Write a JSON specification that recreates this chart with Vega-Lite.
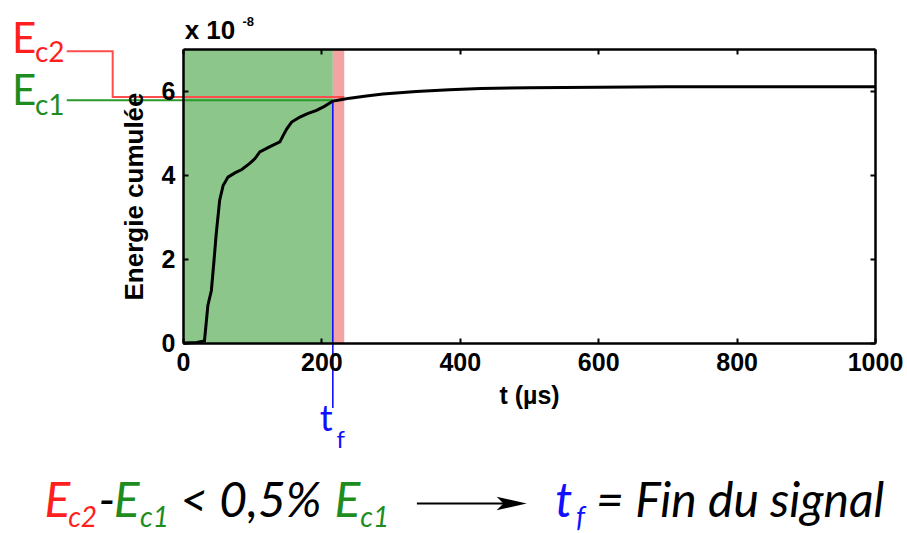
{
  "$schema": "https://vega.github.io/schema/vega-lite/v6.json",
  "width": 692,
  "height": 294,
  "autosize": {"type": "none"},
  "padding": {"left": 183, "top": 49, "right": 32, "bottom": 190},
  "background": "white",
  "config": {"view": {"stroke": null}},
  "datasets": {
    "curve": [
      {"t": 0, "E": 0}, {"t": 20, "E": 0.01}, {"t": 31, "E": 0.05}, {"t": 36, "E": 0.9},
      {"t": 41, "E": 1.25}, {"t": 45, "E": 2.0}, {"t": 48, "E": 2.6}, {"t": 53, "E": 3.4},
      {"t": 58, "E": 3.75}, {"t": 65, "E": 3.95}, {"t": 75, "E": 4.05}, {"t": 85, "E": 4.13},
      {"t": 96, "E": 4.27}, {"t": 104, "E": 4.39}, {"t": 111, "E": 4.55}, {"t": 125, "E": 4.67},
      {"t": 140, "E": 4.79}, {"t": 145, "E": 4.95}, {"t": 150, "E": 5.1}, {"t": 157, "E": 5.26},
      {"t": 169, "E": 5.38}, {"t": 180, "E": 5.46}, {"t": 193, "E": 5.54}, {"t": 205, "E": 5.64},
      {"t": 216.5, "E": 5.76}, {"t": 230, "E": 5.8}, {"t": 241, "E": 5.83}, {"t": 265, "E": 5.88},
      {"t": 289, "E": 5.93}, {"t": 337, "E": 5.99}, {"t": 385, "E": 6.03}, {"t": 430, "E": 6.06},
      {"t": 500, "E": 6.08}, {"t": 600, "E": 6.09}, {"t": 700, "E": 6.1}, {"t": 800, "E": 6.1},
      {"t": 900, "E": 6.1}, {"t": 1000, "E": 6.1}
    ],
    "zones": [
      {"s": "zone1", "t0": 0, "t1": 216.5, "e0": 0, "e1": 7},
      {"s": "zone2", "t0": 216.5, "t1": 233, "e0": 0, "e1": 7}
    ],
    "reflines": [
      {"s": "Ec2line", "o": 1, "t": -168, "E": 6.945},
      {"s": "Ec2line", "o": 2, "t": -101.6, "E": 6.945},
      {"s": "Ec2line", "o": 3, "t": -101.6, "E": 5.857},
      {"s": "Ec2line", "o": 4, "t": 233, "E": 5.857},
      {"s": "Ec1line", "o": 1, "t": -168, "E": 5.78},
      {"s": "Ec1line", "o": 2, "t": 216.5, "E": 5.78}
    ]
  },
  "resolve": {"axis": {"x": "independent", "y": "independent"}},
  "layer": [
    {
      "data": {"name": "zones"},
      "mark": {"type": "rect"},
      "encoding": {
        "x": {"field": "t0", "type": "quantitative",
          "scale": {"domain": [0, 1000], "nice": false, "zero": false},
          "axis": {"orient": "bottom", "values": [0, 200, 400, 600, 800, 1000], "format": "d",
            "grid": false, "zindex": 1, "labelFlush": false,
            "labelFont": "Liberation Sans", "labelFontWeight": "bold", "labelFontSize": 25, "labelColor": "#000",
            "labelPadding": 12,
            "tickColor": "#000", "tickSize": -5, "tickWidth": 2,
            "domainColor": "#000", "domainWidth": 2.5,
            "title": "t (µs)", "titleFont": "Liberation Sans", "titleFontWeight": "bold", "titleFontSize": 25,
            "titleColor": "#000", "titlePadding": 8}},
        "x2": {"field": "t1"},
        "y": {"field": "e0", "type": "quantitative",
          "scale": {"domain": [0, 7], "nice": false, "zero": false},
          "axis": {"orient": "left", "values": [0, 2, 4, 6], "format": "d",
            "grid": false, "zindex": 1, "labelFlush": false,
            "labelFont": "Liberation Sans", "labelFontWeight": "bold", "labelFontSize": 25, "labelColor": "#000",
            "labelPadding": 13,
            "tickColor": "#000", "tickSize": -5, "tickWidth": 2,
            "domainColor": "#000", "domainWidth": 2.5,
            "title": "Energie cumulée", "titleFont": "Liberation Sans", "titleFontWeight": "bold", "titleFontSize": 26,
            "titleColor": "#000", "titlePadding": 14}},
        "y2": {"field": "e1"},
        "color": {"field": "s", "type": "nominal", "legend": null,
          "scale": {"domain": ["zone1", "zone2", "Ec2line", "Ec1line", "Ec2", "Ec1", "tf", "txt"],
                    "range": ["#8cc68a", "#f4a3a3", "#ff4d4d", "#2a9a2a", "#ff1f1f", "#1e8c1e", "#1010ff", "#000000"]}}
      }
    },
    {
      "data": {"name": "reflines"},
      "mark": {"type": "line", "strokeWidth": 2, "interpolate": "linear"},
      "encoding": {
        "x": {"field": "t", "type": "quantitative", "axis": null},
        "y": {"field": "E", "type": "quantitative", "axis": null},
        "order": {"field": "o"},
        "color": {"field": "s", "type": "nominal", "legend": null}
      }
    },
    {
      "data": {"values": [{"s": "tf", "t": 216.5, "E0": -1.55, "E1": 5.78}]},
      "mark": {"type": "rule", "strokeWidth": 1.6},
      "encoding": {
        "x": {"field": "t", "type": "quantitative", "axis": null},
        "y": {"field": "E0", "type": "quantitative", "axis": null},
        "y2": {"field": "E1"},
        "color": {"field": "s", "type": "nominal", "legend": null}
      }
    },
    {
      "data": {"name": "curve"},
      "mark": {"type": "line", "color": "#000", "strokeWidth": 3},
      "encoding": {
        "x": {"field": "t", "type": "quantitative",
          "axis": {"orient": "top", "values": [0, 200, 400, 600, 800, 1000], "labels": false, "title": null,
            "grid": false, "zindex": 1, "tickColor": "#000", "tickSize": -5, "tickWidth": 2,
            "domainColor": "#000", "domainWidth": 2.5}},
        "y": {"field": "E", "type": "quantitative",
          "axis": {"orient": "right", "values": [0, 2, 4, 6], "labels": false, "title": null,
            "grid": false, "zindex": 1, "tickColor": "#000", "tickSize": -5, "tickWidth": 2,
            "domainColor": "#000", "domainWidth": 2.5}}
      }
    },
    {
      "data": {"values": [
        {"txt": "E", "s": "Ec2", "t": -247, "E": 6.9},
        {"txt": "E", "s": "Ec1", "t": -247, "E": 5.66}
      ]},
      "mark": {"type": "text", "font": "Lato", "fontSize": 42, "align": "left", "baseline": "alphabetic"},
      "encoding": {
        "x": {"field": "t", "type": "quantitative", "axis": null},
        "y": {"field": "E", "type": "quantitative", "axis": null},
        "text": {"field": "txt"},
        "color": {"field": "s", "type": "nominal", "legend": null}
      }
    },
    {
      "data": {"values": [
        {"txt": "c2", "s": "Ec2", "t": -214, "E": 6.69},
        {"txt": "c1", "s": "Ec1", "t": -214, "E": 5.44}
      ]},
      "mark": {"type": "text", "font": "Lato", "fontSize": 28, "align": "left", "baseline": "alphabetic"},
      "encoding": {
        "x": {"field": "t", "type": "quantitative", "axis": null},
        "y": {"field": "E", "type": "quantitative", "axis": null},
        "text": {"field": "txt"},
        "color": {"field": "s", "type": "nominal", "legend": null}
      }
    },
    {
      "data": {"values": [{"txt": "t", "s": "tf", "t": 197.5, "E": -2.09}]},
      "mark": {"type": "text", "font": "Lato", "fontSize": 36, "align": "left", "baseline": "alphabetic"},
      "encoding": {
        "x": {"field": "t", "type": "quantitative", "axis": null},
        "y": {"field": "E", "type": "quantitative", "axis": null},
        "text": {"field": "txt"},
        "color": {"field": "s", "type": "nominal", "legend": null}
      }
    },
    {
      "data": {"values": [{"txt": "f", "s": "tf", "t": 222, "E": -2.5}]},
      "mark": {"type": "text", "font": "Lato", "fontSize": 24, "align": "left", "baseline": "alphabetic"},
      "encoding": {
        "x": {"field": "t", "type": "quantitative", "axis": null},
        "y": {"field": "E", "type": "quantitative", "axis": null},
        "text": {"field": "txt"},
        "color": {"field": "s", "type": "nominal", "legend": null}
      }
    },
    {
      "data": {"values": [
        {"txt": "E", "s": "Ec2", "t": -200, "E": -4.15},
        {"txt": "-", "s": "txt", "t": -122, "E": -4.15},
        {"txt": "E", "s": "Ec1", "t": -100, "E": -4.15},
        {"txt": "< 0,5%", "s": "txt", "t": -4, "E": -4.15},
        {"txt": "E", "s": "Ec1", "t": 219, "E": -4.15},
        {"txt": "t", "s": "tf", "t": 538, "E": -4.15},
        {"txt": "= Fin du signal", "s": "txt", "t": 597, "E": -4.15}
      ]},
      "mark": {"type": "text", "font": "Lato", "fontStyle": "italic", "fontSize": 48, "align": "left", "baseline": "alphabetic"},
      "encoding": {
        "x": {"field": "t", "type": "quantitative", "axis": null},
        "y": {"field": "E", "type": "quantitative", "axis": null},
        "text": {"field": "txt"},
        "color": {"field": "s", "type": "nominal", "legend": null}
      }
    },
    {
      "data": {"values": [
        {"txt": "c2", "s": "Ec2", "t": -166, "E": -4.39},
        {"txt": "c1", "s": "Ec1", "t": -62, "E": -4.39},
        {"txt": "c1", "s": "Ec1", "t": 256, "E": -4.39},
        {"txt": "f", "s": "tf", "t": 568, "E": -4.39}
      ]},
      "mark": {"type": "text", "font": "Lato", "fontStyle": "italic", "fontSize": 28, "align": "left", "baseline": "alphabetic"},
      "encoding": {
        "x": {"field": "t", "type": "quantitative", "axis": null},
        "y": {"field": "E", "type": "quantitative", "axis": null},
        "text": {"field": "txt"},
        "color": {"field": "s", "type": "nominal", "legend": null}
      }
    },
    {
      "data": {"values": [{"t0": 338, "t1": 470, "E": -3.82}]},
      "mark": {"type": "rule", "color": "#000", "strokeWidth": 2},
      "encoding": {
        "x": {"field": "t0", "type": "quantitative", "axis": null},
        "x2": {"field": "t1"},
        "y": {"field": "E", "type": "quantitative", "axis": null}
      }
    },
    {
      "data": {"values": [{"t": 475, "E": -3.82}]},
      "mark": {"type": "point", "shape": "M-1,-0.45L1,0L-1,0.45L-0.55,0Z", "filled": true, "color": "#000", "opacity": 1, "size": 900},
      "encoding": {
        "x": {"field": "t", "type": "quantitative", "axis": null},
        "y": {"field": "E", "type": "quantitative", "axis": null}
      }
    },
    {
      "data": {"values": [{"txt": "x 10", "t": 2.4, "E": 7.25}]},
      "mark": {"type": "text", "font": "Liberation Sans", "fontWeight": "bold", "fontSize": 26, "align": "left", "baseline": "alphabetic", "color": "#000"},
      "encoding": {
        "x": {"field": "t", "type": "quantitative", "axis": null},
        "y": {"field": "E", "type": "quantitative", "axis": null},
        "text": {"field": "txt"}
      }
    },
    {
      "data": {"values": [{"txt": "-8", "t": 86, "E": 7.55}]},
      "mark": {"type": "text", "font": "Liberation Sans", "fontWeight": "bold", "fontSize": 13, "align": "left", "baseline": "alphabetic", "color": "#000"},
      "encoding": {
        "x": {"field": "t", "type": "quantitative", "axis": null},
        "y": {"field": "E", "type": "quantitative", "axis": null},
        "text": {"field": "txt"}
      }
    }
  ]
}
